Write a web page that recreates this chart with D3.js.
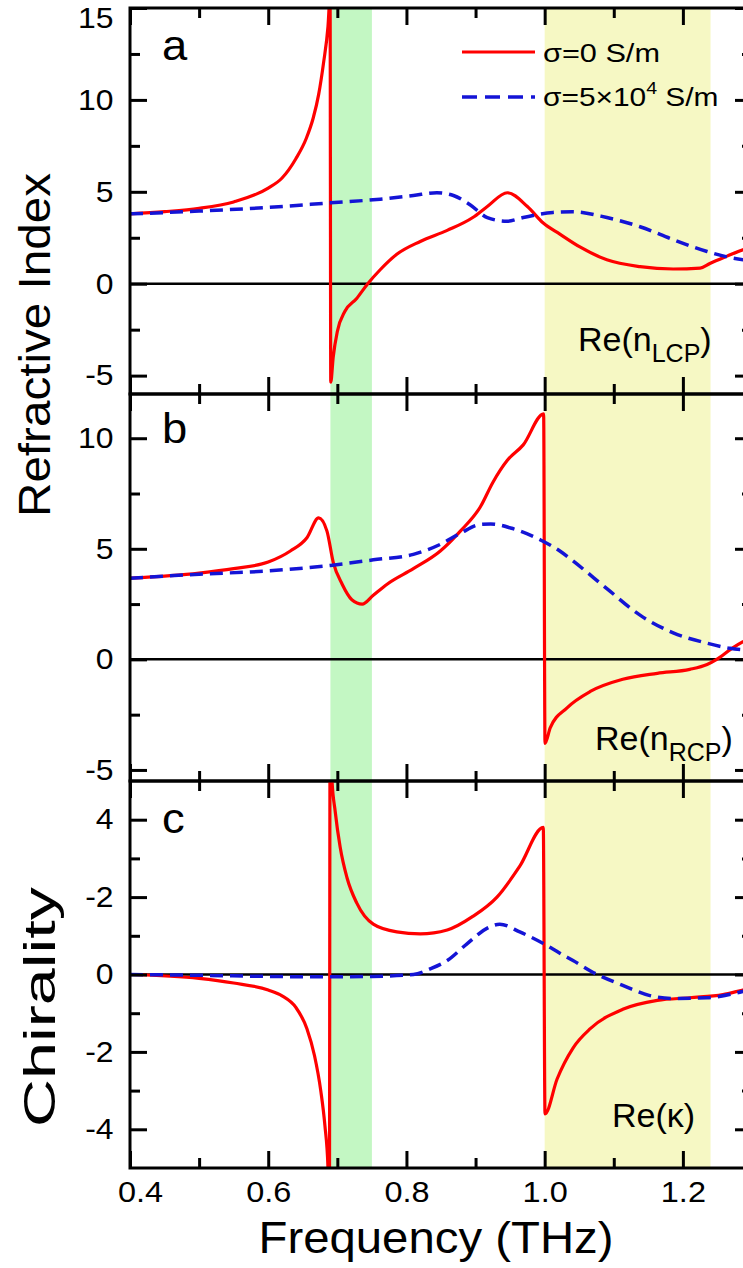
<!DOCTYPE html>
<html><head><meta charset="utf-8">
<script src="https://cdn.jsdelivr.net/npm/d3@7"></script>
<style>
html,body{margin:0;padding:0;background:#fff;overflow:hidden}
svg{display:block}
text{font-family:"Liberation Sans",Arial,Helvetica,sans-serif}
</style></head><body>
<svg id="chart" width="743" height="1268"></svg>
<script>
// ---------- data ----------
const freqDomain = [0.4, 1.3];
const greenBand = [0.69, 0.75];
const yellowBand = [1.0, 1.24];
const xMajorTicks = [0.4, 0.6, 0.8, 1.0, 1.2];
const xMinorTicks = [0.5, 0.7, 0.9, 1.1, 1.3];
const xTickLabels = ["0.4", "0.6", "0.8", "1.0", "1.2"];

const aDomain = [-6, 15];
const aMajor = [15, 10, 5, 0, -5];
const aMinor = [12.5, 7.5, 2.5, -2.5];
const aLabels = ["15", "10", "5", "0", "-5"];

const bDomain = [-5.5, 12];
const bMajor = [10, 5, 0, -5];
const bMinor = [7.5, 2.5, -2.5];
const bLabels = ["10", "5", "0", "-5"];

const cDomain = [-5, 5];
const cMajor = [4, 2, 0, -2, -4];
const cMinor = [3, 1, -1, -3];
const cLabels = ["4", "-2", "0", "-2", "-4"];

const seriesNames = ["σ=0 S/m", "σ=5×10", "4", " S/m"];

// Re(n_LCP)
const nLCP_sigma0 = [[0.4,3.8],[0.45,3.92],[0.5,4.1],[0.55,4.45],[0.6,5.2],[0.62,5.75],[0.64,6.8],[0.655,7.9],[0.665,9.0],[0.673,10.3],[0.68,12.0],[0.6865,14.0],[0.6895,15.6],[0.6905,-5.35],[0.694,-4.0],[0.7,-2.6],[0.711,-1.5],[0.728,-0.8],[0.744,0],[0.762,0.76],[0.786,1.6],[0.82,2.3],[0.859,2.9],[0.896,3.6],[0.917,4.2],[0.946,4.95],[0.975,4.2],[0.998,3.3],[1.022,2.7],[1.051,2.0],[1.09,1.3],[1.138,0.93],[1.186,0.8],[1.225,0.85],[1.239,1.1],[1.264,1.5],[1.287,1.85],[1.3,2.0]];
const nLCP_sigma5e4 = [[0.4,3.8],[0.5,3.95],[0.6,4.15],[0.69,4.4],[0.762,4.6],[0.81,4.8],[0.844,4.95],[0.868,4.8],[0.892,4.3],[0.917,3.6],[0.945,3.4],[0.969,3.6],[1.012,3.88],[1.04,3.92],[1.09,3.6],[1.138,3.1],[1.186,2.4],[1.235,1.75],[1.271,1.4],[1.3,1.25]];

// Re(n_RCP)
const nRCP_sigma0 = [[0.4,3.67],[0.5,3.9],[0.55,4.1],[0.6,4.4],[0.632,4.9],[0.656,5.5],[0.673,6.4],[0.685,5.8],[0.694,4.4],[0.707,3.4],[0.721,2.7],[0.736,2.5],[0.752,2.9],[0.772,3.4],[0.81,4.1],[0.849,4.9],[0.878,5.8],[0.907,6.9],[0.925,8.0],[0.946,9.0],[0.969,9.7],[0.9985,11.1],[1.0005,-3.8],[1.008,-3.1],[1.032,-2.2],[1.066,-1.45],[1.113,-0.9],[1.163,-0.63],[1.21,-0.45],[1.235,-0.23],[1.249,0],[1.271,0.5],[1.287,0.8],[1.3,1.0]];
const nRCP_sigma5e4 = [[0.4,3.67],[0.5,3.85],[0.6,4.0],[0.69,4.25],[0.752,4.5],[0.81,4.75],[0.849,5.2],[0.878,5.7],[0.907,6.1],[0.922,6.12],[0.955,5.9],[0.994,5.4],[1.022,4.9],[1.041,4.45],[1.09,3.2],[1.138,2.0],[1.186,1.2],[1.235,0.73],[1.268,0.5],[1.3,0.4]];

// Re(kappa)
const kappa_sigma0 = [[0.4,0],[0.5,-0.1],[0.55,-0.22],[0.6,-0.4],[0.62,-0.55],[0.64,-0.85],[0.656,-1.4],[0.667,-2.1],[0.676,-3.0],[0.682,-3.9],[0.6865,-5.0],[0.6885,-6.5],[0.6895,6.5],[0.692,5.1],[0.697,4.2],[0.704,3.3],[0.714,2.5],[0.728,1.85],[0.752,1.3],[0.786,1.1],[0.82,1.05],[0.859,1.15],[0.896,1.5],[0.931,2.0],[0.964,2.8],[0.998,3.8],[1.0005,-3.6],[1.018,-2.7],[1.041,-1.9],[1.066,-1.4],[1.113,-0.9],[1.163,-0.67],[1.21,-0.6],[1.258,-0.52],[1.287,-0.4],[1.3,-0.35]];
const kappa_sigma5e4 = [[0.4,0],[0.5,-0.02],[0.6,-0.05],[0.7,-0.06],[0.75,-0.05],[0.81,0],[0.835,0.15],[0.859,0.36],[0.888,0.8],[0.917,1.2],[0.935,1.3],[0.964,1.1],[0.998,0.8],[1.022,0.55],[1.041,0.36],[1.076,0],[1.113,-0.28],[1.151,-0.54],[1.186,-0.62],[1.235,-0.6],[1.272,-0.5],[1.3,-0.37]];

// ---------- drawing ----------
const svg = d3.select("#chart");
const plotLeft = 130, plotRight = 752;
const x = d3.scaleLinear().domain(freqDomain).range([plotLeft, plotRight]);
const RED = "#ff0000", BLUE = "#1414d6";
const panels = [
  {top: 8, bottom: 394, domain: aDomain, major: aMajor, minor: aMinor, labels: aLabels, red: nLCP_sigma0, blue: nLCP_sigma5e4},
  {top: 394, bottom: 781, domain: bDomain, major: bMajor, minor: bMinor, labels: bLabels, red: nRCP_sigma0, blue: nRCP_sigma5e4},
  {top: 781, bottom: 1168, domain: cDomain, major: cMajor, minor: cMinor, labels: cLabels, red: kappa_sigma0, blue: kappa_sigma5e4}
];

// bands
[[greenBand, "#c3f7c3"], [yellowBand, "#f6f8c4"]].forEach(([b, c]) => {
  svg.append("rect").attr("x", x(b[0])).attr("width", x(b[1]) - x(b[0]))
    .attr("y", panels[0].top).attr("height", panels[2].bottom - panels[0].top).attr("fill", c);
});

const styleAxis = sel => {
  sel.select(".domain").remove();
  sel.selectAll("line").attr("stroke", "#000").attr("stroke-width", 3);
  sel.attr("font-size", 29).attr("font-family", '"Liberation Sans",Arial,sans-serif');
  sel.selectAll("text").attr("fill", "#000");
};

panels.forEach((p, i) => {
  const y = d3.scaleLinear().domain(p.domain).range([p.bottom, p.top]);
  const cid = "clip" + i;
  svg.append("clipPath").attr("id", cid).append("rect")
    .attr("x", plotLeft).attr("y", p.top).attr("width", plotRight - plotLeft).attr("height", p.bottom - p.top);
  const g = svg.append("g").attr("clip-path", `url(#${cid})`);
  g.append("line").attr("x1", plotLeft).attr("x2", plotRight).attr("y1", y(0)).attr("y2", y(0))
    .attr("stroke", "#000").attr("stroke-width", 2.5);
  const line = d3.line().x(d => x(d[0])).y(d => y(d[1])).curve(d3.curveMonotoneX);
  g.append("path").datum(p.red).attr("d", line).attr("fill", "none")
    .attr("stroke", RED).attr("stroke-width", 3.2).attr("stroke-linejoin", "round");
  g.append("path").datum(p.blue).attr("d", line).attr("fill", "none")
    .attr("stroke", BLUE).attr("stroke-width", 3.5).attr("stroke-dasharray", "13,7");

  const isLast = i === 2;
  const xb = svg.append("g").attr("transform", `translate(0,${p.bottom})`)
    .call(d3.axisBottom(x).tickValues(xMajorTicks).tickSizeInner(-17).tickSizeOuter(0).tickPadding(13)
      .tickFormat(isLast ? (d => xTickLabels[xMajorTicks.indexOf(d)]) : ""))
    .call(styleAxis);
  if (isLast) {
    xb.selectAll("text").attr("transform", "scale(1.12,1)").attr("dx", d => d === 0.4 ? 9 : 0);
  }
  svg.append("g").attr("transform", `translate(0,${p.bottom})`)
    .call(d3.axisBottom(x).tickValues(xMinorTicks).tickSizeInner(-10).tickSizeOuter(0).tickFormat(""))
    .call(styleAxis);
  svg.append("g").attr("transform", `translate(0,${p.top})`)
    .call(d3.axisTop(x).tickValues(xMajorTicks).tickSizeInner(-17).tickSizeOuter(0).tickFormat(""))
    .call(styleAxis);
  svg.append("g").attr("transform", `translate(0,${p.top})`)
    .call(d3.axisTop(x).tickValues(xMinorTicks).tickSizeInner(-10).tickSizeOuter(0).tickFormat(""))
    .call(styleAxis);

  const yl = svg.append("g").attr("transform", `translate(${plotLeft},0)`)
    .call(d3.axisLeft(y).tickValues(p.major).tickSizeInner(-17).tickSizeOuter(0).tickPadding(15)
      .tickFormat(d => p.labels[p.major.indexOf(d)]))
    .call(styleAxis);
  yl.selectAll("text").attr("transform", "scale(1.1,1)").attr("y", d => (i === 0 && d === 15) ? 10 : 0);
  svg.append("g").attr("transform", `translate(${plotLeft},0)`)
    .call(d3.axisLeft(y).tickValues(p.minor).tickSizeInner(-10).tickSizeOuter(0).tickFormat(""))
    .call(styleAxis);
  svg.append("g").attr("transform", `translate(${plotRight},0)`)
    .call(d3.axisRight(y).tickValues(p.major).tickSizeInner(-17).tickSizeOuter(0).tickFormat(""))
    .call(styleAxis);
  svg.append("g").attr("transform", `translate(${plotRight},0)`)
    .call(d3.axisRight(y).tickValues(p.minor).tickSizeInner(-10).tickSizeOuter(0).tickFormat(""))
    .call(styleAxis);

  svg.append("rect").attr("x", plotLeft).attr("y", p.top).attr("width", plotRight - plotLeft)
    .attr("height", p.bottom - p.top).attr("fill", "none").attr("stroke", "#000").attr("stroke-width", 3);
});

// panel letters
[["a", 60], ["b", 443], ["c", 833]].forEach(([t, yy]) => {
  svg.append("text").attr("transform", `translate(162,${yy}) scale(1.08,1)`)
    .attr("font-size", 42).text(t);
});

// legend
svg.append("line").attr("x1", 462).attr("x2", 535).attr("y1", 52).attr("y2", 52)
  .attr("stroke", RED).attr("stroke-width", 3.2);
svg.append("line").attr("x1", 462).attr("x2", 535).attr("y1", 97).attr("y2", 97)
  .attr("stroke", BLUE).attr("stroke-width", 3.5).attr("stroke-dasharray", "15,8");
svg.append("text").attr("transform", "translate(543,62) scale(1.18,1)").attr("font-size", 26).text(seriesNames[0]);
const l2 = svg.append("text").attr("transform", "translate(543,106) scale(1.15,1)").attr("font-size", 26);
l2.append("tspan").text(seriesNames[1]);
l2.append("tspan").attr("font-size", 17).attr("dy", -12).text(seriesNames[2]);
l2.append("tspan").attr("dy", 12).text(seriesNames[3]);

// annotations
function annot(x0, y0, sub) {
  const t = svg.append("text").attr("transform", `translate(${x0},${y0})`).attr("font-size", 34);
  t.append("tspan").text("Re(");
  if (sub.length > 1) {
    t.append("tspan").text(sub[0]);
    t.append("tspan").attr("font-size", 25).attr("dy", 11).text(sub[1]);
    t.append("tspan").attr("dy", -11).text(")");
  } else {
    t.append("tspan").text(sub[0]);
    t.append("tspan").text(")");
  }
}
annot(578, 351, ["n", "LCP"]);
annot(595, 750, ["n", "RCP"]);
annot(612, 1127, ["κ"]);

// axis titles
svg.append("text").attr("transform", "translate(50,345) rotate(-90)").attr("text-anchor", "middle")
  .attr("font-size", 45).attr("textLength", 344).attr("lengthAdjust", "spacingAndGlyphs").text("Refractive Index");
svg.append("text").attr("transform", "translate(55,1007) rotate(-90)").attr("text-anchor", "middle")
  .attr("font-size", 45).attr("textLength", 240).attr("lengthAdjust", "spacingAndGlyphs").text("Chirality");
svg.append("text").attr("x", 436).attr("y", 1253).attr("text-anchor", "middle")
  .attr("font-size", 44).attr("textLength", 355).attr("lengthAdjust", "spacingAndGlyphs").text("Frequency (THz)");
</script>
</body></html>
